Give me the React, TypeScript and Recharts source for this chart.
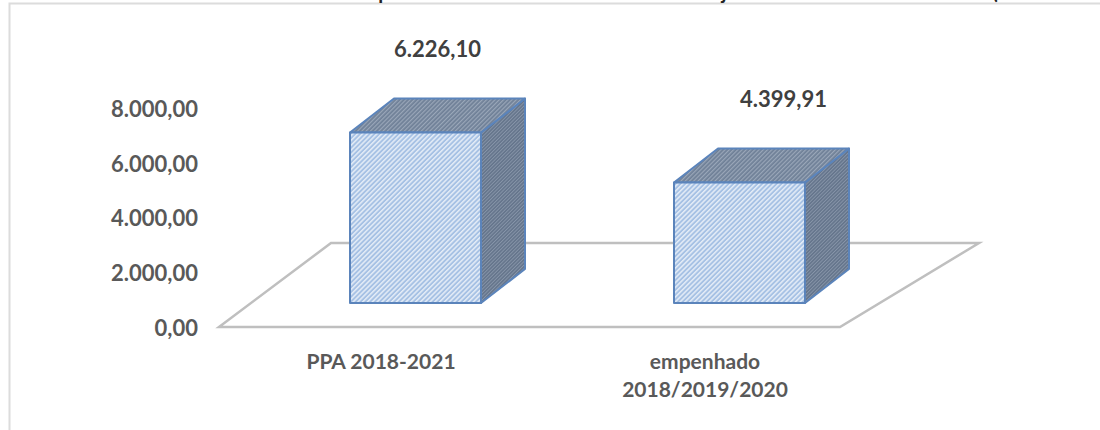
import { BarChart, Bar, XAxis, YAxis, LabelList, Customized } from "recharts";

const categories = ["PPA 2018-2021", "empenhado 2018/2019/2020"];
const values = [6226.1, 4399.91];
const valueLabels = ["6.226,10", "4.399,91"];
const yTicks = [0, 2000, 4000, 6000, 8000];
const yTickLabels = ["0,00", "2.000,00", "4.000,00", "6.000,00", "8.000,00"];
// the title is cut off by the picture edge, only these descenders show
const titleFragments = [
  { text: "p", x: 384 },
  { text: "j", x: 724 },
  { text: "(", x: 995 },
];

const data = categories.map((name, i) => ({ name, value: values[i], label: valueLabels[i] }));

const FONT = "Lato, sans-serif";
const BAR_SHIFT = 34;
const FRONT_LIFT = 24;
const DEPTH_X = 44;
const DEPTH_Y = 34;
const labelNudge = [0, 22];

const Box = (props: any) => {
  const { x, y, width, height } = props;
  const l = x + BAR_SHIFT;
  const r = l + width;
  const t = y - FRONT_LIFT;
  const b = t + height;
  const edge = { stroke: "#5b84bb", strokeWidth: 2, strokeLinejoin: "round" as const };
  return (
    <g>
      <polygon
        points={`${r},${t} ${r + DEPTH_X},${t - DEPTH_Y} ${r + DEPTH_X},${b - DEPTH_Y} ${r},${b}`}
        fill="url(#hatchSide)"
        {...edge}
      />
      <polygon
        points={`${l},${t} ${l + DEPTH_X},${t - DEPTH_Y} ${r + DEPTH_X},${t - DEPTH_Y} ${r},${t}`}
        fill="url(#hatchTop)"
        {...edge}
      />
      <rect x={l} y={t} width={width} height={height} fill="url(#hatchFront)" {...edge} />
    </g>
  );
};

const ValueLabel = (props: any) => {
  const { x, y, width, index, value } = props;
  return (
    <text
      x={x + BAR_SHIFT + width / 2 + DEPTH_X / 2 + labelNudge[index]}
      y={y - FRONT_LIFT - DEPTH_Y - 50}
      textAnchor="middle"
      dominantBaseline="central"
      fontFamily={FONT}
      fontWeight={700}
      fontSize={22}
      fill="#404040"
    >
      {value}
    </text>
  );
};

const CategoryTick = (props: any) => {
  const { x, y, payload } = props;
  const lines =
    payload.value === categories[1] ? ["empenhado", "2018/2019/2020"] : [payload.value];
  return (
    <text textAnchor="middle" fontFamily={FONT} fontWeight={700} fontSize={21} fill="#595959">
      {lines.map((line: string, i: number) => (
        <tspan key={line} x={x} y={y + 34 + i * 28}>
          {line}
        </tspan>
      ))}
    </text>
  );
};

const Backdrop = () => (
  <g>
    <defs>
      <pattern id="hatchFront" width="3.4" height="3.4" patternUnits="userSpaceOnUse" patternTransform="rotate(45)">
        <rect width="3.4" height="3.4" fill="#a6c1e4" />
        <rect width="1.5" height="3.4" fill="#e4ecf7" />
      </pattern>
      <pattern id="hatchTop" width="3" height="3" patternUnits="userSpaceOnUse" patternTransform="rotate(45)">
        <rect width="3" height="3" fill="#6f8097" />
        <rect width="1.2" height="3" fill="#9aa7b9" />
      </pattern>
      <pattern id="hatchSide" width="2.5" height="2.5" patternUnits="userSpaceOnUse" patternTransform="rotate(45)">
        <rect width="2.5" height="2.5" fill="#65758c" />
        <rect width="0.9" height="2.5" fill="#8795a9" />
      </pattern>
    </defs>
    <polyline points="1100,3.5 9.5,3.5 9.5,430" fill="none" stroke="#dcdcdc" strokeWidth={2} />
    <polygon points="219,327 331,243 979,243 840,327" fill="none" stroke="#bfbfbf" strokeWidth={2.5} />
    {titleFragments.map((f) => (
      <text key={f.x} x={f.x} y={-1} textAnchor="middle" fontFamily={FONT} fontWeight={700} fontSize={20} fill="#222222">
        {f.text}
      </text>
    ))}
  </g>
);

export default function App() {
  return (
    <div style={{ position: "absolute", left: 0, top: 0, width: 1100, height: 430, background: "#fff" }}>
      <BarChart
        width={1100}
        height={430}
        data={data}
        margin={{ top: 108, right: 233, bottom: 0, left: 0 }}
        barSize={131}
      >
        <Customized component={<Backdrop />} />
        <XAxis dataKey="name" axisLine={false} tickLine={false} height={103} interval={0} tick={<CategoryTick />} />
        <YAxis
          width={219}
          domain={[0, 8000]}
          ticks={yTicks}
          axisLine={false}
          tickLine={false}
          tickMargin={15}
          tickFormatter={(v: number) => yTickLabels[yTicks.indexOf(v)]}
          tick={{ fontFamily: FONT, fontWeight: 700, fontSize: 22, fill: "#595959", dy: 1 }}
        />
        <Bar dataKey="value" shape={<Box />} isAnimationActive={false}>
          <LabelList dataKey="label" content={<ValueLabel />} />
        </Bar>
      </BarChart>
    </div>
  );
}
